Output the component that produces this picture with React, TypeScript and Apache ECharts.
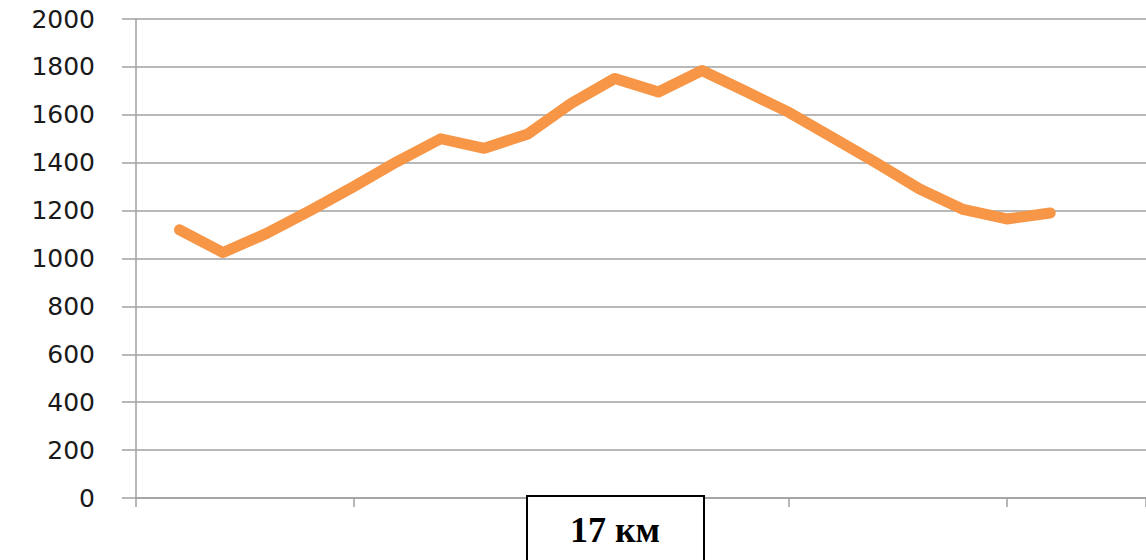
import React, { useEffect, useRef } from "react";
import * as echarts from "echarts";

// Distance index of each point along the route
const xValues: number[] = [1, 2, 3, 4, 5, 6, 7, 8, 9, 10, 11, 12, 13, 14, 15, 16, 17, 18, 19, 20, 21];
// Elevation (m)
const heights: number[] = [1120, 1025, 1105, 1200, 1300, 1405, 1500, 1460, 1520, 1648, 1752, 1695, 1785, 1698, 1610, 1505, 1400, 1290, 1205, 1165, 1190];
const yTicks = { min: 0, max: 2000, interval: 200 };
const boxLabel = "17 км";

export default function App() {
  const ref = useRef<HTMLDivElement>(null);
  useEffect(() => {
    if (!ref.current) return;
    const chart = echarts.init(ref.current, null, { renderer: "svg" });
    const gridColor = "#a0a0a0";
    chart.setOption({
      animation: false,
      backgroundColor: "#ffffff",
      grid: { left: 136, right: 0, top: 19, bottom: 62, containLabel: false },
      xAxis: {
        type: "value",
        min: 0,
        max: 23.2,
        interval: 5,
        axisLine: { show: true, lineStyle: { color: gridColor, width: 1.5 } },
        axisTick: { show: true, length: 9, lineStyle: { color: gridColor, width: 1.5 } },
        axisLabel: { show: false },
        splitLine: { show: false },
      },
      yAxis: {
        type: "value",
        min: yTicks.min,
        max: yTicks.max,
        interval: yTicks.interval,
        axisLine: { show: true, lineStyle: { color: gridColor, width: 1.5 } },
        axisTick: { show: true, length: 14, lineStyle: { color: gridColor, width: 1.5 } },
        axisLabel: {
          margin: 41,
          fontFamily: "DejaVu Sans",
          fontSize: 25,
          color: "#1a1a1a",
          formatter: (v: number) => String(v),
        },
        splitLine: { show: true, lineStyle: { color: gridColor, width: 1.5 } },
      },
      series: [
        {
          type: "line",
          data: xValues.map((x, i) => [x, heights[i]]),
          showSymbol: false,
          symbol: "none",
          lineStyle: { color: "#F79646", width: 11, cap: "round", join: "round" },
          z: 3,
        },
      ],
      graphic: [
        {
          type: "rect",
          shape: { x: 527, y: 496, width: 177, height: 80 },
          style: { fill: "#ffffff", stroke: "#000000", lineWidth: 2 },
          z: 100,
        },
        {
          type: "text",
          x: 615,
          y: 530,
          style: {
            text: boxLabel,
            fontFamily: "Liberation Serif",
            fontWeight: "bold",
            fontSize: 36,
            fill: "#000000",
            align: "center",
            verticalAlign: "middle",
          },
          z: 101,
        },
      ],
    });
    return () => chart.dispose();
  }, []);
  return (
    <div
      ref={ref}
      style={{ position: "fixed", left: 0, top: 0, width: 1146, height: 560 }}
    />
  );
}
